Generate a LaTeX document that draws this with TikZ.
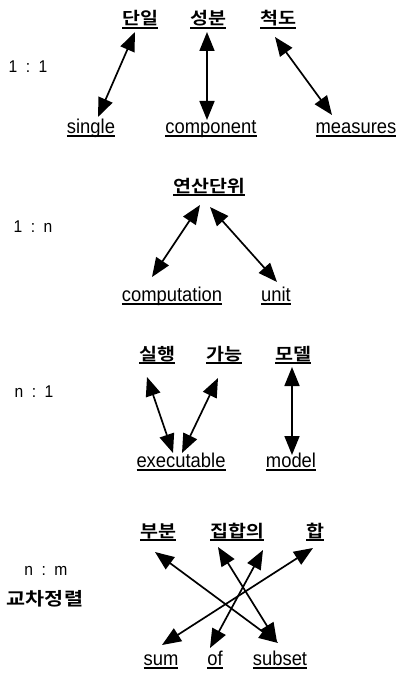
\documentclass[tikz,border=0pt]{standalone}
\usepackage{fontspec}
\setmainfont{Liberation Sans}[FakeStretch=0.92]
\newfontfamily\kr{Noto Sans CJK KR}[FakeStretch=1.15,BoldFont={* Bold}]
\usepackage{tikz}
\usetikzlibrary{arrows.meta}

% underline at a fixed depth, whatever the descenders
\newcommand\ulword[1]{\setbox0\hbox{#1}\rlap{\vrule height -2.3pt depth 3.6pt width \wd0}\box0}

\begin{document}
\begin{tikzpicture}[x=1pt,y=-1pt,>={Triangle[length=19pt,width=15pt]},
  word/.style={anchor=base,inner sep=0pt},
  kor/.style={word,font=\kr\bfseries\fontsize{17}{17}\selectfont},
  eng/.style={word,font=\fontsize{20}{20}\selectfont},
  kind/.style={word,font=\fontsize{17}{17}\selectfont},
  link/.style={line width=1.7pt}]
\useasboundingbox (0,0) rectangle (399,674);
% ---- 1 : 1 ----
\node[kind] (k11) at (28,73) {1\enspace:\enspace1};
\node[kor] (danil) at (140,25) {\ulword{단일}};
\node[kor] (seongbun) at (208,25) {\ulword{성분}};
\node[kor] (cheokdo) at (278,25) {\ulword{척도}};
\node[eng] (single) at (91,133) {\ulword{single}};
\node[eng] (component) at (211,133) {\ulword{component}};
\node[eng] (measures) at (356,133) {\ulword{measures}};
\draw[<->,link] ([shift={(-5,7)}]danil.base) -- ([shift={(7,-16)}]single.base);
\draw[<->,link] ([shift={(-1,7)}]seongbun.base) -- ([shift={(-4,-13)}]component.base);
\draw[<->,link] ([shift={(-3,12)}]cheokdo.base) -- ([shift={(-24,-18)}]measures.base);
% ---- 1 : n ----
\node[kind] (k1n) at (33,232) {1\enspace:\enspace n};
\node[kor] (yeonsan) at (209,192) {\ulword{연산단위}};
\node[eng] (computation) at (172,301) {\ulword{computation}};
\node[eng] (unit) at (276,301) {\ulword{unit}};
\draw[<->,link] ([shift={(-9,13)}]yeonsan.base) -- ([shift={(-20,-24)}]computation.base);
\draw[<->,link] ([shift={(1,15)}]yeonsan.base) -- ([shift={(1,-19)}]unit.base);
% ---- n : 1 ----
\node[kind] (kn1) at (34,397) {n\enspace:\enspace1};
\node[kor] (silhaeng) at (157,360) {\ulword{실행}};
\node[kor] (ganeung) at (224,360) {\ulword{가능}};
\node[kor] (model-kr) at (293,360) {\ulword{모델}};
\node[eng] (executable) at (181,467) {\ulword{executable}};
\node[eng] (model) at (291,467) {\ulword{model}};
\draw[<->,link] ([shift={(-10,17)}]silhaeng.base) -- ([shift={(-8,-14)}]executable.base);
\draw[<->,link] ([shift={(-6,18)}]ganeung.base) -- ([shift={(1,-14)}]executable.base);
\draw[<->,link] ([shift={(-1,7)}]model-kr.base) -- ([shift={(1,-12)}]model.base);
% ---- n : m, crossed order ----
\node[kind] (knm) at (46,575) {n\enspace:\enspace m};
\node[kor,font=\kr\bfseries\fontsize{18}{18}\selectfont] (cross) at (45,605) {교차정렬};
\node[kor] (bubun) at (158,537) {\ulword{부분}};
\node[kor] (jiphap) at (237,537) {\ulword{집합의}};
\node[kor] (hap) at (315,537) {\ulword{합}};
\node[eng] (sum) at (161,665) {\ulword{sum}};
\node[eng] (of) at (215,665) {\ulword{of}};
\node[eng] (subset) at (280,665) {\ulword{subset}};
\draw[<->,link] ([shift={(-3,15)}]bubun.base) -- ([shift={(-2,-22)}]subset.base);
\draw[<->,link] ([shift={(-19,10)}]jiphap.base) -- ([shift={(-3,-23)}]subset.base);
\draw[<->,link] ([shift={(26,13)}]jiphap.base) -- ([shift={(-5,-17)}]of.base);
\draw[<->,link] ([shift={(-2,11)}]hap.base) -- ([shift={(1,-20)}]sum.base);
\end{tikzpicture}
\end{document}
